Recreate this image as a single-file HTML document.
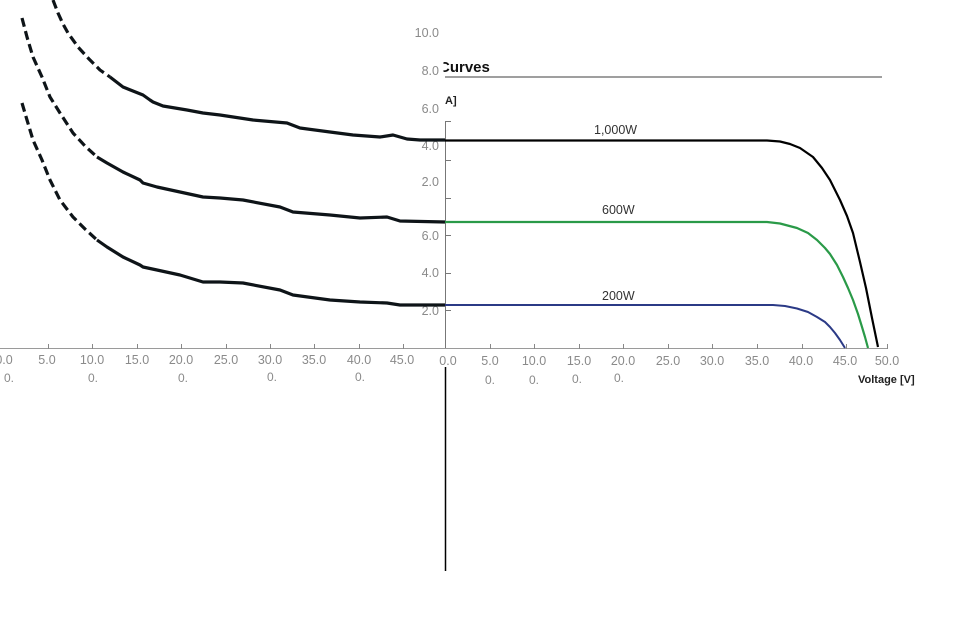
<!DOCTYPE html>
<html><head><meta charset="utf-8"><style>
html,body{margin:0;padding:0;background:#fff;}
svg{display:block;}
text{font-family:"Liberation Sans",sans-serif;}
</style></head><body>
<svg width="960" height="640" viewBox="0 0 960 640" xmlns="http://www.w3.org/2000/svg">
<rect width="960" height="640" fill="#fff"/>
<!-- title & header -->
<text x="439" y="72" font-size="15" font-weight="bold" fill="#111">Curves</text>
<rect x="430" y="55" width="13.5" height="20" fill="#fff"/>
<line x1="445" y1="77" x2="882" y2="77" stroke="#666" stroke-width="1.2"/>
<text x="445" y="104" font-size="11" font-weight="bold" fill="#222">A]</text>
<!-- y labels -->
<g font-size="12.5" fill="#8a8a8a" text-anchor="end">
<text x="439" y="37">10.0</text>
<text x="439" y="75">8.0</text>
<text x="439" y="113">6.0</text>
<text x="439" y="150">4.0</text>
<text x="439" y="186">2.0</text>
<text x="439" y="240">6.0</text>
<text x="439" y="277">4.0</text>
<text x="439" y="315">2.0</text>
</g>
<!-- y axis -->
<g stroke="#777" stroke-width="1">
<line x1="445.5" y1="121" x2="445.5" y2="349"/>
<line x1="445" y1="121.5" x2="451" y2="121.5"/>
<line x1="445" y1="160.5" x2="451" y2="160.5"/>
<line x1="445" y1="198.5" x2="451" y2="198.5"/>
<line x1="445" y1="235.5" x2="451" y2="235.5"/>
<line x1="445" y1="273.5" x2="451" y2="273.5"/>
<line x1="445" y1="310.5" x2="451" y2="310.5"/>
</g>
<!-- x axis -->
<line x1="0" y1="348.5" x2="888" y2="348.5" stroke="#9a9a9a" stroke-width="1"/>
<g stroke="#888" stroke-width="1">
<line x1="48.5" y1="344" x2="48.5" y2="349"/><line x1="92.5" y1="344" x2="92.5" y2="349"/>
<line x1="137.5" y1="344" x2="137.5" y2="349"/><line x1="181.5" y1="344" x2="181.5" y2="349"/>
<line x1="226.5" y1="344" x2="226.5" y2="349"/><line x1="270.5" y1="344" x2="270.5" y2="349"/>
<line x1="314.5" y1="344" x2="314.5" y2="349"/><line x1="359.5" y1="344" x2="359.5" y2="349"/>
<line x1="403.5" y1="344" x2="403.5" y2="349"/>
<line x1="490.5" y1="344" x2="490.5" y2="349"/><line x1="534.5" y1="344" x2="534.5" y2="349"/>
<line x1="579.5" y1="344" x2="579.5" y2="349"/><line x1="623.5" y1="344" x2="623.5" y2="349"/>
<line x1="668.5" y1="344" x2="668.5" y2="349"/><line x1="712.5" y1="344" x2="712.5" y2="349"/>
<line x1="757.5" y1="344" x2="757.5" y2="349"/><line x1="802.5" y1="344" x2="802.5" y2="349"/>
<line x1="846.5" y1="344" x2="846.5" y2="349"/><line x1="887.5" y1="344" x2="887.5" y2="349"/>
</g>
<g font-size="12.5" fill="#8a8a8a" text-anchor="middle">
<text x="4" y="364">0.0</text><text x="47" y="364">5.0</text><text x="92" y="364">10.0</text>
<text x="137" y="364">15.0</text><text x="181" y="364">20.0</text><text x="226" y="364">25.0</text>
<text x="270" y="364">30.0</text><text x="314" y="364">35.0</text><text x="359" y="364">40.0</text>
<text x="402" y="364">45.0</text>
<text x="448" y="365">0.0</text><text x="490" y="365">5.0</text><text x="534" y="365">10.0</text>
<text x="579" y="365">15.0</text><text x="623" y="365">20.0</text><text x="668" y="365">25.0</text>
<text x="712" y="365">30.0</text><text x="757" y="365">35.0</text><text x="801" y="365">40.0</text>
<text x="845" y="365">45.0</text><text x="887" y="365">50.0</text>
</g>
<g font-size="12" fill="#8a8a8a">
<text x="4" y="382">0.</text><text x="88" y="382">0.</text><text x="178" y="382">0.</text>
<text x="267" y="381">0.</text><text x="355" y="381">0.</text>
<text x="485" y="384">0.</text><text x="529" y="384">0.</text><text x="572" y="383">0.</text><text x="614" y="382">0.</text>
</g>
<text x="858" y="383" font-size="11" font-weight="bold" fill="#222">Voltage [V]</text>
<line x1="445.5" y1="367" x2="445.5" y2="571" stroke="#000" stroke-width="1.5"/>
<!-- series labels -->
<g font-size="12.5" fill="#333">
<text x="594" y="134">1,000W</text>
<text x="602" y="214">600W</text>
<text x="602" y="300">200W</text>
</g>
<!-- right curves -->
<polyline fill="none" stroke="#000" stroke-width="2.2" stroke-linejoin="round" points="445,140.5 767,140.5 780,141.5 790,144 800,148 813,157 822,168 830,180 840,200 847,216 853,233 860,262 866,288 872,318 878,347"/>
<polyline fill="none" stroke="#2a9a48" stroke-width="2.2" stroke-linejoin="round" points="445,222 767,222 780,223.5 797,228 808,233 817,240 825,248 830,254 837,265 843,277 848,288 853,300 858,314 862,327 865,337 868,348"/>
<polyline fill="none" stroke="#2b3a86" stroke-width="2" stroke-linejoin="round" points="445,305 773,305 785,306 797,308.5 808,312 817,317 825,322 830,327 835,333 840,340 845,348"/>
<!-- left curves -->
<g fill="none" stroke="#0e1418" stroke-width="3.2" stroke-linejoin="round">
<polyline stroke-dasharray="9,4.5" points="53,0 58,13 63,24 68,33 78,47 89,59 100,70 110,77"/>
<polyline points="110,77 123,87 143,95 150,100 153,102 163,106 187,110 203,113 220,115 253,120 287,123 300,128 330,132 353,135 380,137 393,135 407,139 420,140 445,140"/>
<polyline stroke-dasharray="9,4.5" points="22,18 27,37 33,57 42,77 50,97 60,113 73,133 85,146 97,157"/>
<polyline points="97,157 107,163 123,172 140,180 143,183 157,187 180,192 203,197 220,198 243,200 280,207 293,212 330,215 360,218 387,217 400,221 445,222"/>
<polyline stroke-dasharray="9,4.5" points="22,103 27,120 33,140 42,160 50,180 60,200 73,217 85,229 97,240"/>
<polyline points="97,240 107,247 123,257 140,265 143,267 157,270 180,275 203,282 220,282 243,283 280,290 293,295 330,300 360,302 387,303 400,305 445,305"/>
</g>
</svg>
</body></html>
